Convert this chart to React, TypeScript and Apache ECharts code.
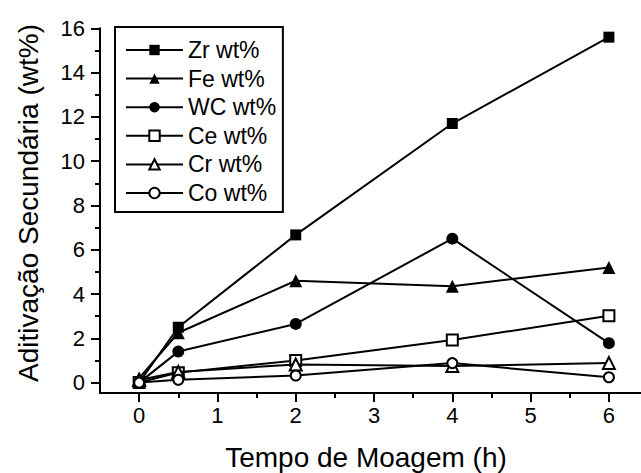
import React, { useEffect, useRef } from "react";
import * as echarts from "echarts";

const hours = [0, 0.5, 2, 4, 6];
const zr = [0, 2.5, 6.67, 11.7, 15.6];
const fe = [0.2, 2.25, 4.6, 4.35, 5.2];
const wc = [0, 1.4, 2.65, 6.5, 1.78];
const ce = [0, 0.45, 1.0, 1.92, 3.02];
const cr = [0.12, 0.48, 0.82, 0.75, 0.88];
const co = [0, 0.13, 0.32, 0.88, 0.24];

const seriesNames = ["Zr wt%", "Fe wt%", "WC wt%", "Ce wt%", "Cr wt%", "Co wt%"];
const xMajorTicks = [0, 1, 2, 3, 4, 5, 6];
const xMinorTicks = [0.5, 1.5, 2.5, 3.5, 4.5, 5.5];
const yMajorTicks = [0, 2, 4, 6, 8, 10, 12, 14, 16];
const yMinorTicks = [1, 3, 5, 7, 9, 11, 13, 15];
const xTitle = "Tempo de Moagem (h)";
const yTitle = "Aditivação Secundária (wt%)";

const FONT = "Liberation Sans, Arial, Helvetica, sans-serif";

export default function App() {
  const ref = useRef<HTMLDivElement>(null);
  useEffect(() => {
    if (!ref.current) return;
    const chart = echarts.init(ref.current, null, { renderer: "svg" });
    const values = [zr, fe, wc, ce, cr, co];
    const symbols = ["rect", "triangle", "circle", "emptyRect", "emptyTriangle", "emptyCircle"];
    const sizes = [11, 13, 12, 11, 12, 10];
    const xMin = -0.5, xMax = 6.41, yMin = -0.47, yMax = 16;
    const axisLineStyle = { color: "#000", width: 2 };
    chart.setOption({
      animation: false,
      backgroundColor: "#fff",
      grid: { left: 100, right: 0, top: 28.3, bottom: 80, containLabel: false },
      xAxis: [
        {
          type: "value", min: xMin, max: xMax, position: "bottom",
          axisLine: { show: true, onZero: false, lineStyle: axisLineStyle },
          axisTick: { show: true, length: 9, lineStyle: { color: "#000", width: 2 }, customValues: xMajorTicks },
          axisLabel: { show: true, customValues: xMajorTicks, fontSize: 22, color: "#000", fontFamily: FONT, margin: 11 },
          splitLine: { show: false },
        },
        {
          type: "value", min: xMin, max: xMax, position: "bottom",
          axisLine: { show: false, onZero: false },
          axisTick: { show: true, length: 5, lineStyle: { color: "#000", width: 2 }, customValues: xMinorTicks },
          axisLabel: { show: false },
          splitLine: { show: false },
        },
      ],
      yAxis: [
        {
          type: "value", min: yMin, max: yMax, position: "left",
          axisLine: { show: true, onZero: false, lineStyle: axisLineStyle },
          axisTick: { show: true, length: 9, lineStyle: { color: "#000", width: 2 }, customValues: yMajorTicks },
          axisLabel: { show: true, customValues: yMajorTicks, fontSize: 22, color: "#000", fontFamily: FONT, margin: 15 },
          splitLine: { show: false },
        },
        {
          type: "value", min: yMin, max: yMax, position: "left",
          axisLine: { show: false, onZero: false },
          axisTick: { show: true, length: 5, lineStyle: { color: "#000", width: 2 }, customValues: yMinorTicks },
          axisLabel: { show: false },
          splitLine: { show: false },
        },
      ],
      legend: {
        orient: "vertical",
        left: 115,
        top: 27,
        padding: [11.5, 6.7, 7.5, 10],
        itemWidth: 57,
        itemHeight: 13,
        itemGap: 5.6,
        backgroundColor: "#fff",
        borderColor: "#000",
        borderWidth: 2,
        borderRadius: 0,
        textStyle: { fontSize: 23, color: "#000", fontFamily: FONT },
        data: seriesNames,
      },
      graphic: [
        {
          type: "text", x: 366, y: 457,
          style: { text: xTitle, fontSize: 28, fontFamily: FONT, fill: "#000", textAlign: "center", textVerticalAlign: "middle" },
        },
        {
          type: "text", x: 28, y: 203, rotation: Math.PI / 2,
          style: { text: yTitle, fontSize: 28, fontFamily: FONT, fill: "#000", textAlign: "center", textVerticalAlign: "middle" },
        },
      ],
      series: seriesNames.map((name, i) => ({
        name,
        type: "line",
        xAxisIndex: 0,
        yAxisIndex: 0,
        data: hours.map((h, j) => [h, values[i][j]]),
        symbol: symbols[i],
        symbolSize: sizes[i],
        showAllSymbol: true,
        color: "#000",
        lineStyle: { color: "#000", width: 2 },
        itemStyle: { color: "#000" },
        z: 2 + i,
      })),
    });
    return () => chart.dispose();
  }, []);
  return <div ref={ref} style={{ position: "absolute", left: 0, top: 0, width: 641, height: 473 }} />;
}
